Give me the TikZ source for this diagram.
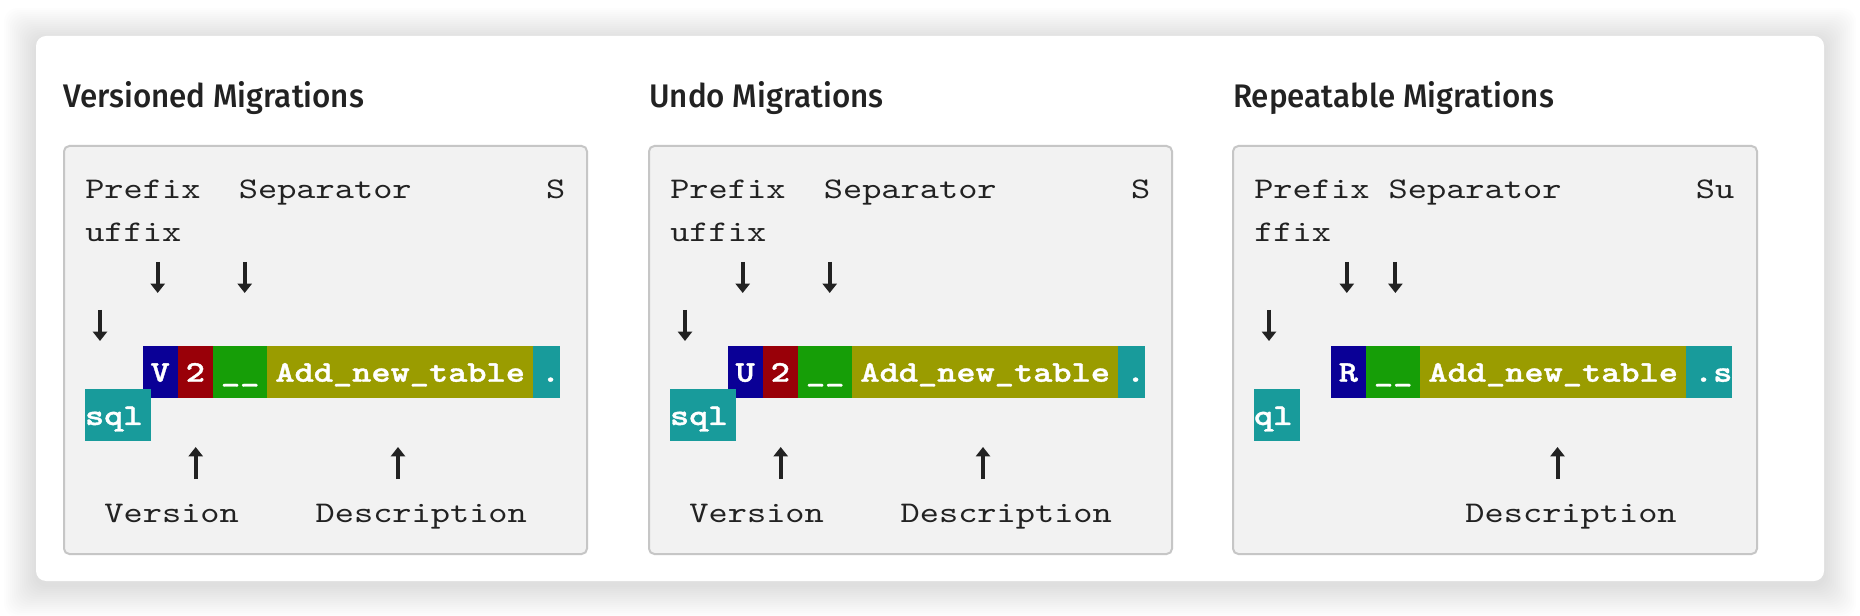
\documentclass[tikz,border=0pt]{standalone}
\usepackage{fontspec}
\setmonofont{lmmono10-regular.otf}[BoldFont=lmmonolt10-bold.otf,BoldFeatures={FakeBold=1.2},FakeStretch=1.219]
\newfontfamily\headfont{Fira Sans Medium}[FakeStretch=0.96]
\usetikzlibrary{arrows.meta,positioning}
\definecolor{PanelFill}{HTML}{F2F2F2}
\definecolor{PanelEdge}{HTML}{C6C6C6}
\definecolor{InkDark}{HTML}{222222}
\definecolor{SegBlue}{HTML}{0A0096}
\definecolor{SegRed}{HTML}{990008}
\definecolor{SegGreen}{HTML}{169E07}
\definecolor{SegOlive}{HTML}{9A9C00}
\definecolor{SegTeal}{HTML}{189B9B}
\newcommand{\monosize}{\fontsize{22.5pt}{22.5pt}\selectfont}
\tikzset{
  heading/.style={anchor=base west,inner sep=0pt,text=InkDark,font=\headfont\fontsize{24.5pt}{24.5pt}\selectfont},
  panel/.style={draw=PanelEdge,line width=1.5pt,fill=PanelFill,rounded corners=4pt},
  monotext/.style={anchor=base west,inner sep=0pt,text=InkDark,font=\ttfamily\monosize},
  seg/.style={anchor=base west,fill=#1,text=white,font=\ttfamily\bfseries\monosize,inner xsep=6pt,inner ysep=0pt,outer sep=0pt,text height=26.8pt,text depth=12pt},
  segcut/.style={seg=#1,inner xsep=0pt},
  pointer/.style={-{Triangle[width=10.5pt,length=7pt]},line width=3pt,draw=InkDark}
}

\begin{document}
\begin{tikzpicture}[x=0.75pt,y=-0.75pt]
  \useasboundingbox (0,0) rectangle (1860,616);
  \fill[white] (0,0) rectangle (1860,616);
  % card with soft shadow
  \foreach \s in {1,...,16}
    \fill[black,opacity=0.008,rounded corners=10pt] (36-2*\s,40-2*\s) rectangle (1824+2*\s,585+2*\s);
  \fill[white,rounded corners=7.5pt] (36,36) rectangle (1824,581);

  % versioned
  \begin{scope}[shift={(64,0)}]
    \node[heading] (vtitle) at (-1,107.5) {Versioned Migrations};
    \draw[panel] (0,146) rectangle (523,554);
    \node[monotext] (vprefix) at (21,198.5) {Prefix};
    \node[monotext] (vsep) at (174.6,198.5) {Separator};
    \node[monotext] (vsuf) at (481.8,198.5) {S};
    \node[monotext] (vsufb) at (21,242) {uffix};
    \coordinate (vpa) at (93.7,262);
    \coordinate (vsa) at (180.7,262);
    \coordinate (vxa) at (36,310);
    \draw[pointer] (vpa) -- ++(0,31);
    \draw[pointer] (vsa) -- ++(0,31);
    \draw[pointer] (vxa) -- ++(0,31);
    \node[seg=SegBlue] (vpre) at (78.6,381.7) {V};
    \node[seg=SegRed] (vver) at (vpre.base east) {2};
    \node[seg=SegGreen] (vund) at (vver.base east) {\_\_};
    \node[seg=SegOlive] (vdesc) at (vund.base east) {Add\_new\_table};
    \node[segcut=SegTeal] (vdot) at (vdesc.base east) {\hspace*{6pt}.};
    \node[segcut=SegTeal] (vsql) at (21,425) {sql\hspace*{6pt}};
    \coordinate (vva) at (131.7,479);
    \coordinate (vda) at (334,479);
    \draw[pointer] (vva) -- ++(0,-32);
    \draw[pointer] (vda) -- ++(0,-32);
    \node[monotext] (vversion) at (40.2,522) {Version};
    \node[monotext] (vdescr) at (251.4,522) {Description};
  \end{scope}

  % undo
  \begin{scope}[shift={(649,0)}]
    \node[heading] (utitle) at (0,107.5) {Undo Migrations};
    \draw[panel] (0,146) rectangle (523,554);
    \node[monotext] (uprefix) at (21,198.5) {Prefix};
    \node[monotext] (usep) at (174.6,198.5) {Separator};
    \node[monotext] (usuf) at (481.8,198.5) {S};
    \node[monotext] (usufb) at (21,242) {uffix};
    \coordinate (upa) at (93.7,262);
    \coordinate (usa) at (180.7,262);
    \coordinate (uxa) at (36,310);
    \draw[pointer] (upa) -- ++(0,31);
    \draw[pointer] (usa) -- ++(0,31);
    \draw[pointer] (uxa) -- ++(0,31);
    \node[seg=SegBlue] (upre) at (78.6,381.7) {U};
    \node[seg=SegRed] (uver) at (upre.base east) {2};
    \node[seg=SegGreen] (uund) at (uver.base east) {\_\_};
    \node[seg=SegOlive] (udesc) at (uund.base east) {Add\_new\_table};
    \node[segcut=SegTeal] (udot) at (udesc.base east) {\hspace*{6pt}.};
    \node[segcut=SegTeal] (usql) at (21,425) {sql\hspace*{6pt}};
    \coordinate (uva) at (131.7,479);
    \coordinate (uda) at (334,479);
    \draw[pointer] (uva) -- ++(0,-32);
    \draw[pointer] (uda) -- ++(0,-32);
    \node[monotext] (uversion) at (40.2,522) {Version};
    \node[monotext] (udescr) at (251.4,522) {Description};
  \end{scope}

  % repeatable
  \begin{scope}[shift={(1233,0)}]
    \node[heading] (rtitle) at (0,107.5) {Repeatable Migrations};
    \draw[panel] (0,146) rectangle (524,554);
    \node[monotext] (rprefix) at (21,198.5) {Prefix};
    \node[monotext] (rsep) at (155.4,198.5) {Separator};
    \node[monotext] (rsuf) at (462.6,198.5) {Su};
    \node[monotext] (rsufb) at (21,242) {ffix};
    \coordinate (rpa) at (113.8,262);
    \coordinate (rsa) at (162.4,262);
    \coordinate (rxa) at (36,310);
    \draw[pointer] (rpa) -- ++(0,31);
    \draw[pointer] (rsa) -- ++(0,31);
    \draw[pointer] (rxa) -- ++(0,31);
    \node[seg=SegBlue] (rpre) at (97.8,381.7) {R};
    \node[seg=SegGreen] (rund) at (rpre.base east) {\_\_};
    \node[seg=SegOlive] (rdesc) at (rund.base east) {Add\_new\_table};
    \node[segcut=SegTeal] (rdot) at (rdesc.base east) {\hspace*{6pt}.s};
    \node[segcut=SegTeal] (rsql) at (21,425) {ql\hspace*{6pt}};
    \coordinate (rda) at (324.5,479);
    \draw[pointer] (rda) -- ++(0,-32);
    \node[monotext] (rdescr) at (232.2,522) {Description};
  \end{scope}
\end{tikzpicture}
\end{document}
